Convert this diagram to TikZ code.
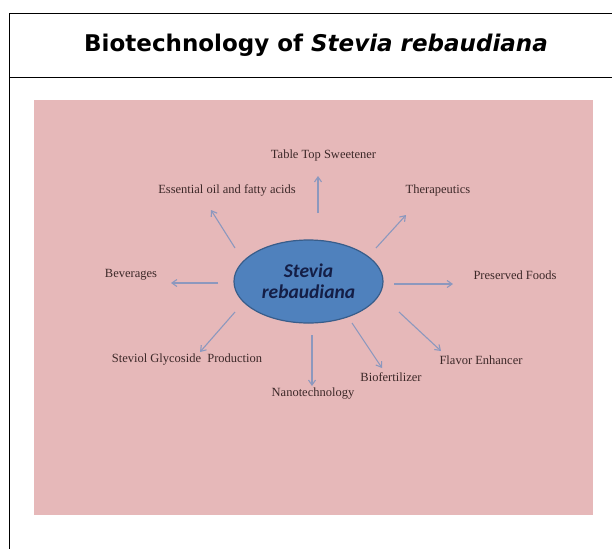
\documentclass[tikz,border=0pt]{standalone}
\usepackage{fontspec}
\setmainfont{Liberation Serif}
\newfontfamily\titlefont{DejaVu Sans}
\newfontfamily\ellfont{Carlito}
\usetikzlibrary{arrows.meta,shapes.geometric}
\definecolor{pinkbg}{RGB}{230,184,185}
\definecolor{ellfill}{RGB}{79,129,189}
\definecolor{elldraw}{RGB}{56,93,138}
\definecolor{arrowc}{RGB}{140,152,190}
\definecolor{labelc}{RGB}{60,40,40}
\definecolor{navy}{RGB}{20,30,70}
\tikzset{
  lbl/.style={font=\fontsize{12.5}{14}\selectfont, text=labelc, inner sep=0pt},
  arr/.style={draw=arrowc, line width=1.1pt, -{Straight Barb[length=5pt,width=7pt]}},
}
\begin{document}
\begin{tikzpicture}[x=1pt,y=-1pt]
\useasboundingbox (0,0) rectangle (612,549);
\fill[white] (0,0) rectangle (612,549);
% frame
\draw[line width=1pt] (612,13) -- (9,13) -- (9,549);
\draw[line width=1pt] (9,77) -- (612,77);
\node[font=\titlefont\bfseries\fontsize{23}{26}\selectfont, inner sep=0pt] (title) at (316,45) {Biotechnology of \textit{Stevia rebaudiana}};
% pink panel
\fill[pinkbg] (34,100) rectangle (593,515);
% center
\node[ellipse, draw=elldraw, line width=1.2pt, fill=ellfill, minimum width=149pt, minimum height=83pt, inner sep=0pt,
  align=center, font=\ellfont\bfseries\itshape\fontsize{19.5}{21}\selectfont, text=navy] (c) at (308.5,281.5) {Stevia\\rebaudiana};
% labels
\node[lbl] (tts) at (323.5,155) {Table Top Sweetener};
\node[lbl] (eo) at (227,190) {Essential oil and fatty acids};
\node[lbl] (bev) at (131,275) {Beverages};
\node[lbl] (ther) at (438,190) {Therapeutics};
\node[lbl] (pf) at (515,275) {Preserved Foods};
\node[lbl] (sgp) at (187,360) {Steviol Glycoside\ \ Production};
\node[lbl] (nano) at (313,394) {Nanotechnology};
\node[lbl] (bio) at (391,377) {Biofertilizer};
\node[lbl] (fe) at (481,360) {Flavor Enhancer};
% arrow endpoints
\coordinate (s1) at (318,213); \coordinate (e1) at (318,176);
\coordinate (s2) at (235,248); \coordinate (e2) at (211,210);
\coordinate (s3) at (218,283); \coordinate (e3) at (171,283);
\coordinate (s4) at (376,248); \coordinate (e4) at (406,215);
\coordinate (s5) at (394,284); \coordinate (e5) at (453,284);
\coordinate (s6) at (235,312); \coordinate (e6) at (200,352);
\coordinate (s7) at (312,335); \coordinate (e7) at (312,386);
\coordinate (s8) at (352,323); \coordinate (e8) at (382,368);
\coordinate (s9) at (399,312); \coordinate (e9) at (441,351);
\foreach \i in {1,...,9} { \draw[arr] (s\i) -- (e\i); }
\end{tikzpicture}
\end{document}
